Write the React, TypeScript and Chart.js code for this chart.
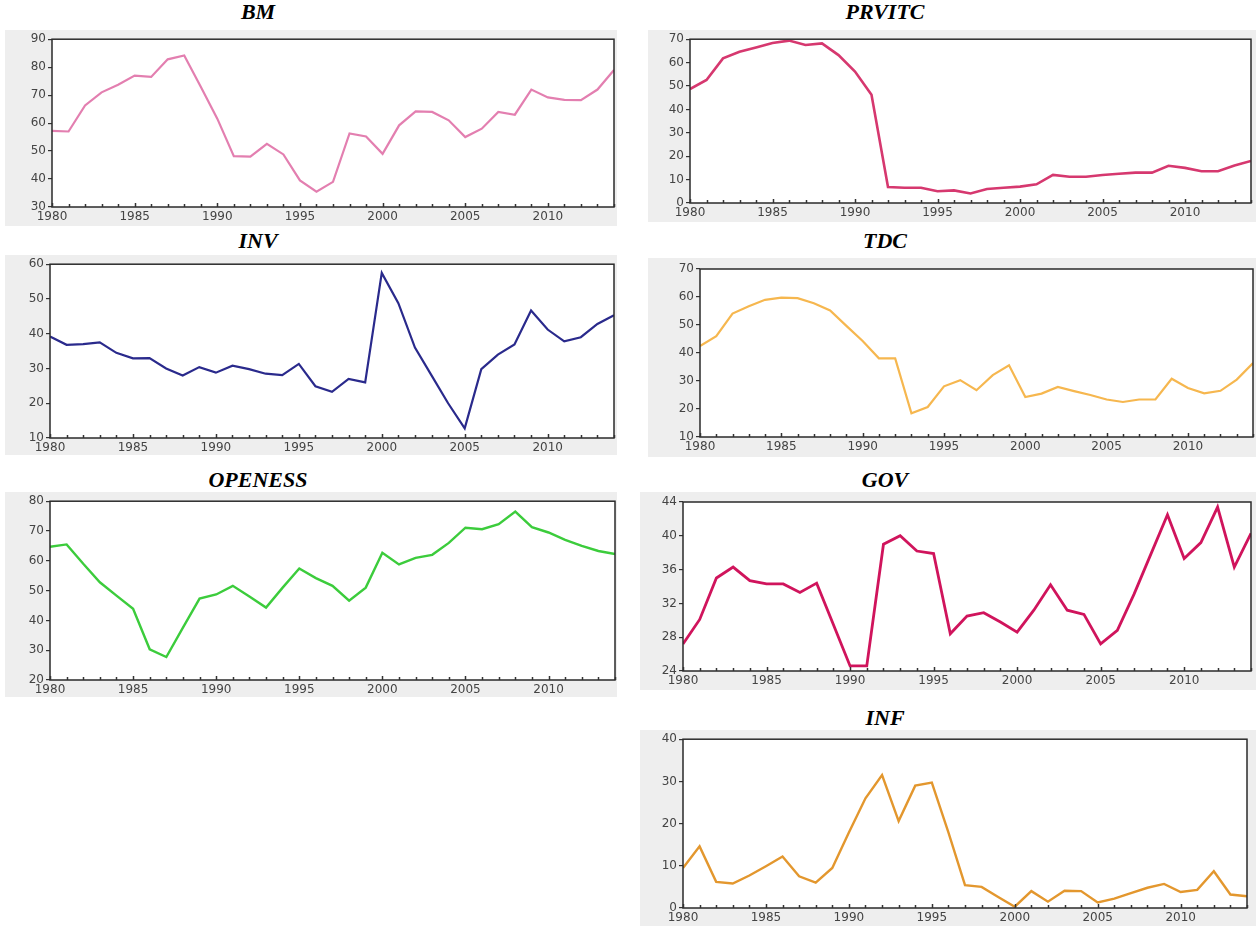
import React, { useEffect, useRef } from "react";
import { Chart, registerables } from "chart.js";

Chart.register(...registerables);

const years = [
  1980, 1981, 1982, 1983, 1984, 1985, 1986, 1987, 1988, 1989,
  1990, 1991, 1992, 1993, 1994, 1995, 1996, 1997, 1998, 1999,
  2000, 2001, 2002, 2003, 2004, 2005, 2006, 2007, 2008, 2009,
  2010, 2011, 2012, 2013, 2014,
];
const labeledYears = [1980, 1985, 1990, 1995, 2000, 2005, 2010];

const bm = [
  57.2, 57, 66.3, 71, 73.7, 77, 76.5, 82.8, 84.2, 73,
  61.6, 48.2, 48, 52.6, 48.8, 39.5, 35.5, 39, 56.3, 55.2,
  49, 59.2, 64.2, 64, 61, 55, 58, 64, 63, 72,
  69.2, 68.3, 68.2, 72, 79,
];
const prvitc = [
  48.7, 52.6, 61.8, 64.6, 66.5, 68.4, 69.4, 67.5, 68.2, 63.2,
  56.2, 46.3, 6.8, 6.5, 6.5, 5, 5.4, 4.1, 6, 6.5,
  7, 8, 12, 11.2, 11.2, 12, 12.5, 13, 13, 15.9,
  15, 13.6, 13.6, 16, 18,
];
const inv = [
  39.2, 36.8, 37, 37.5, 34.5, 32.9, 33, 30, 28, 30.4,
  28.8, 30.8, 29.8, 28.5, 28.1, 31.3, 24.9, 23.3, 27, 26,
  57.5, 48.8, 36, 28, 20, 12.8, 29.8, 34, 36.9, 46.7,
  41.2, 37.8, 39, 42.8, 45.3,
];
const tdc = [
  42.5, 46, 54.1, 56.7, 59, 59.8, 59.6, 57.8, 55.2, 49.7,
  44.3, 38.1, 38.1, 18.5, 20.7, 28.1, 30.3, 26.7, 32.1, 35.6,
  24.3, 25.5, 27.9, 26.4, 25, 23.4, 22.5, 23.4, 23.4, 30.8,
  27.5, 25.6, 26.5, 30.5, 36.4,
];
const openess = [
  64.7, 65.5, 59, 52.8, 48.3, 43.9, 30.3, 27.7, 37.6, 47.3,
  48.7, 51.6, 48, 44.3, 51, 57.4, 54.2, 51.6, 46.6, 51,
  62.7, 58.8, 61, 62, 66, 71.1, 70.6, 72.3, 76.5, 71.3,
  69.5, 67, 65, 63.3, 62.3,
];
const gov = [
  27.2, 30.1, 35, 36.3, 34.7, 34.3, 34.3, 33.3, 34.4, 29.5,
  24.6, 24.6, 39, 40, 38.2, 37.9, 28.4, 30.5, 30.9, 29.8,
  28.6, 31.2, 34.2, 31.2, 30.7, 27.2, 28.8, 33.1, 37.8, 42.5,
  37.3, 39.2, 43.4, 36.3, 40.3,
];
const inf = [
  9.5, 14.6, 6.2, 5.8, 7.7, 9.9, 12.2, 7.5, 6, 9.5,
  17.9, 26, 31.5, 20.6, 29, 29.7, 17.9, 5.4, 5, 2.6,
  0.3, 4, 1.5, 4.1, 4, 1.3, 2.2, 3.5, 4.8, 5.7,
  3.8, 4.3, 8.7, 3.2, 2.8,
];

type PanelSpec = {
  title: string;
  values: number[];
  color: string;
  width: number;
  min: number;
  max: number;
  step: number;
  box: { l: number; t: number; r: number; b: number };
  plot: { l: number; t: number; r: number; b: number };
  titleAt: { x: number; y: number };
};

const panels: PanelSpec[] = [
  {
    title: "BM", values: bm, color: "#e37fb0", width: 2.2, min: 30, max: 90, step: 10,
    box: { l: 5, t: 30, r: 617, b: 226 }, plot: { l: 52, t: 38, r: 614, b: 207 },
    titleAt: { x: 258, y: 12 },
  },
  {
    title: "PRVITC", values: prvitc, color: "#d6386f", width: 2.6, min: 0, max: 70, step: 10,
    box: { l: 648, t: 30, r: 1256, b: 222 }, plot: { l: 690, t: 37, r: 1251, b: 203 },
    titleAt: { x: 885, y: 12 },
  },
  {
    title: "INV", values: inv, color: "#2a2a8c", width: 2.2, min: 10, max: 60, step: 10,
    box: { l: 5, t: 255, r: 617, b: 455 }, plot: { l: 50, t: 261, r: 614, b: 438 },
    titleAt: { x: 258, y: 241 },
  },
  {
    title: "TDC", values: tdc, color: "#f6b74f", width: 2.2, min: 10, max: 70, step: 10,
    box: { l: 648, t: 258, r: 1256, b: 457 }, plot: { l: 700, t: 269, r: 1253, b: 437 },
    titleAt: { x: 885, y: 241 },
  },
  {
    title: "OPENESS", values: openess, color: "#3ccc3c", width: 2.4, min: 20, max: 80, step: 10,
    box: { l: 5, t: 492, r: 617, b: 697 }, plot: { l: 50, t: 500, r: 615, b: 680 },
    titleAt: { x: 258, y: 480 },
  },
  {
    title: "GOV", values: gov, color: "#d0145c", width: 2.8, min: 24, max: 44, step: 4,
    box: { l: 640, t: 492, r: 1256, b: 690 }, plot: { l: 683, t: 502, r: 1251, b: 671 },
    titleAt: { x: 885, y: 480 },
  },
  {
    title: "INF", values: inf, color: "#e3972e", width: 2.4, min: 0, max: 40, step: 10,
    box: { l: 640, t: 730, r: 1256, b: 926 }, plot: { l: 683, t: 736, r: 1247, b: 908 },
    titleAt: { x: 885, y: 718 },
  },
];

const framePlugin = {
  id: "eviewsFrame",
  beforeDatasetsDraw(chart: any) {
    const { ctx, chartArea } = chart;
    ctx.save();
    ctx.fillStyle = "#ffffff";
    ctx.fillRect(chartArea.left, chartArea.top, chartArea.right - chartArea.left, chartArea.bottom - chartArea.top);
    ctx.restore();
  },
  afterDatasetsDraw(chart: any) {
    const { ctx, chartArea } = chart;
    const xs = chart.scales.x;
    ctx.save();
    ctx.strokeStyle = "#2a2a2a";
    ctx.lineWidth = 1.5;
    ctx.strokeRect(chartArea.left, chartArea.top, chartArea.right - chartArea.left, chartArea.bottom - chartArea.top);
    ctx.lineWidth = 1.5;
    ctx.strokeStyle = "#333";
    for (const yr of years) {
      const px = Math.round(xs.getPixelForValue(yr)) + 0.5;
      const len = yr % 5 === 0 ? 4 : 3;
      ctx.beginPath();
      ctx.moveTo(px, chartArea.bottom);
      ctx.lineTo(px, chartArea.bottom - len);
      ctx.stroke();
    }
    ctx.restore();
  },
};

function Panel({ spec }: { spec: PanelSpec }) {
  const ref = useRef<HTMLCanvasElement | null>(null);
  const w = spec.box.r - spec.box.l;
  const h = spec.box.b - spec.box.t;
  useEffect(() => {
    if (!ref.current) return;
    const yWidth = spec.plot.l - spec.box.l;
    const xHeight = spec.box.b - spec.plot.b;
    const font = { family: "DejaVu Sans", size: 12 };
    const chart = new Chart(ref.current, {
      type: "line",
      data: {
        datasets: [
          {
            data: years.map((yr, i) => ({ x: yr, y: spec.values[i] })),
            borderColor: spec.color,
            borderWidth: spec.width,
            pointRadius: 0,
            tension: 0,
            fill: false,
          },
        ],
      },
      options: {
        animation: false,
        responsive: false,
        maintainAspectRatio: false,
        layout: {
          padding: {
            left: 0,
            top: spec.plot.t - spec.box.t,
            right: spec.box.r - spec.plot.r,
            bottom: 0,
          },
        },
        plugins: { legend: { display: false }, tooltip: { enabled: false } },
        scales: {
          x: {
            type: "linear",
            min: 1980,
            max: 2014,
            afterBuildTicks: (s: any) => {
              s.ticks = labeledYears.map((v) => ({ value: v }));
            },
            afterFit: (s: any) => {
              s.height = xHeight;
            },
            grid: { display: false, drawTicks: false },
            border: { display: false },
            ticks: {
              font,
              color: "#444",
              padding: 3,
              maxRotation: 0,
              autoSkip: false,
              callback: (v: any) => String(v),
            },
          },
          y: {
            min: spec.min,
            max: spec.max,
            afterFit: (s: any) => {
              s.width = yWidth;
            },
            grid: { drawOnChartArea: false, tickLength: 4, color: "#333", lineWidth: 1.2 },
            border: { display: false },
            ticks: { stepSize: spec.step, font, color: "#444", padding: 2 },
          },
        },
      },
      plugins: [framePlugin],
    } as any);
    return () => chart.destroy();
  }, [spec]);
  return (
    <div
      style={{
        position: "absolute",
        left: spec.box.l,
        top: spec.box.t,
        width: w,
        height: h,
        background: "#eeeeee",
      }}
    >
      <canvas ref={ref} width={w} height={h} style={{ display: "block", width: w, height: h }} />
    </div>
  );
}

export default function App() {
  return (
    <div style={{ position: "absolute", left: 0, top: 0, width: 1256, height: 926, background: "#ffffff", overflow: "hidden" }}>
      {panels.map((p) => (
        <React.Fragment key={p.title}>
          <div
            style={{
              position: "absolute",
              left: p.titleAt.x - 120,
              width: 240,
              top: p.titleAt.y - 13,
              height: 26,
              lineHeight: "26px",
              textAlign: "center",
              fontFamily: "'Liberation Serif', 'Times New Roman', serif",
              fontWeight: "bold",
              fontStyle: "italic",
              fontSize: 22,
              color: "#000",
            }}
          >
            {p.title}
          </div>
          <Panel spec={p} />
        </React.Fragment>
      ))}
    </div>
  );
}
